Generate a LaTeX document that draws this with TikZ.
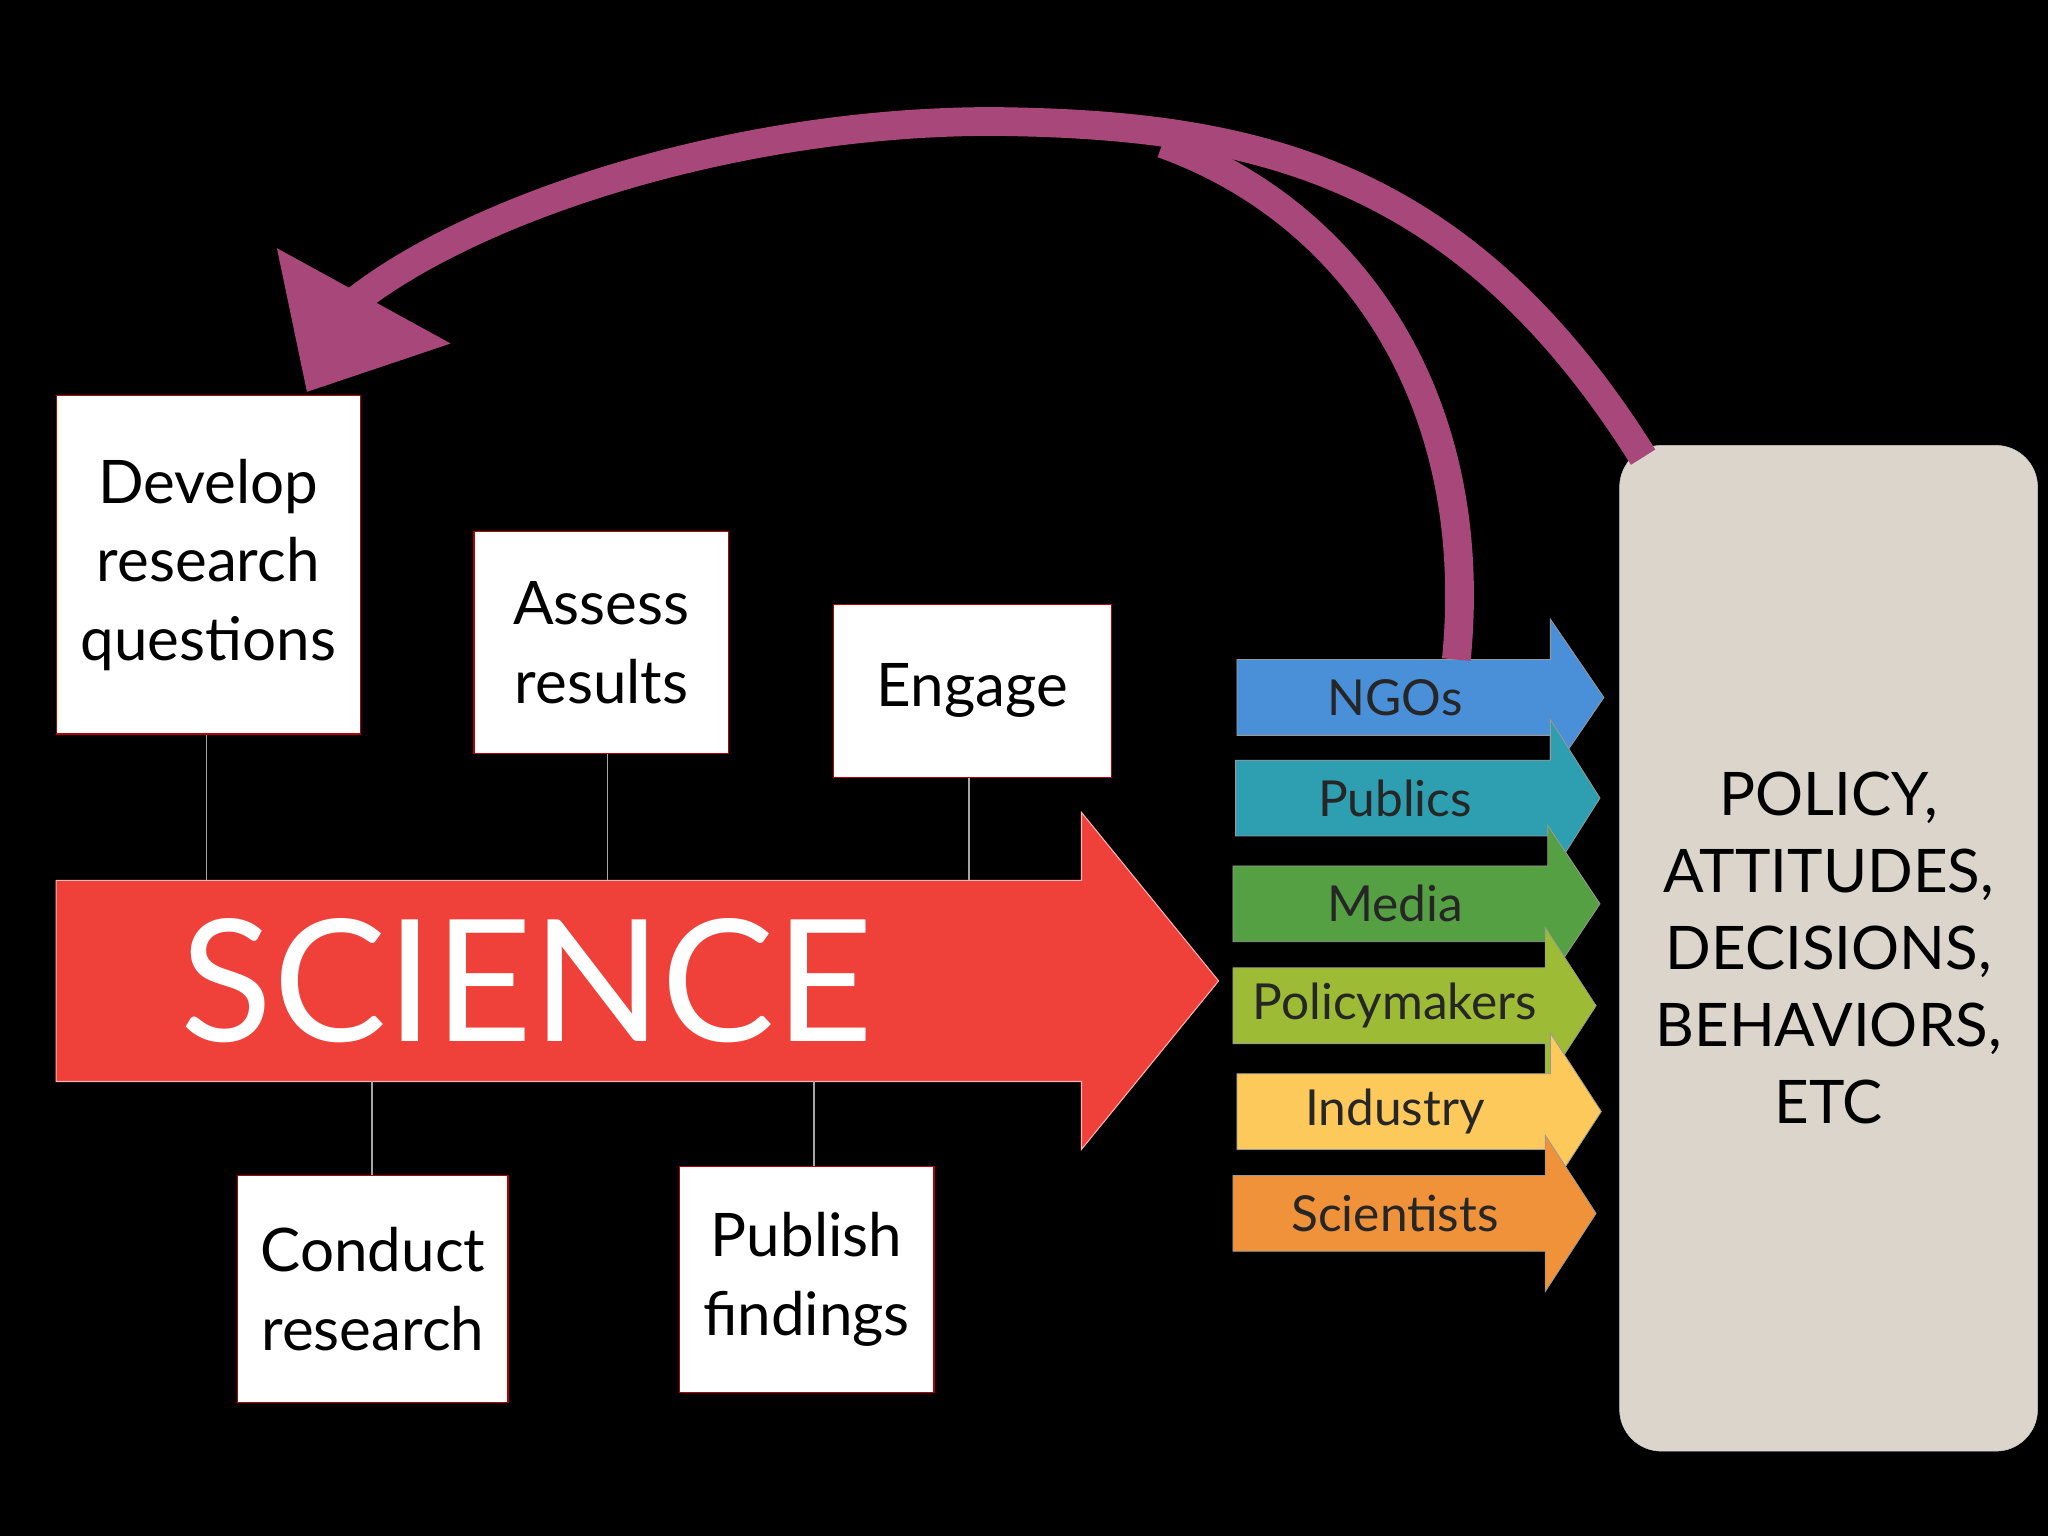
\documentclass[tikz,border=0pt]{standalone}
\usepackage{fontspec}
\setmainfont{Lato}
\begin{document}
\begin{tikzpicture}[x=1pt,y=-1pt,
  wbox/.style={draw=red!70!black,line width=1pt,fill=white,inner sep=0pt,align=center,font=\fontsize{46}{60}\selectfont},
  conn/.style={draw=gray!70,line width=1.2pt},
  tag/.style={font=\fontsize{38}{44}\selectfont,text=black!85}]
\fill[black] (0,0) rectangle (1568,1176);
\useasboundingbox (0,0) rectangle (1568,1176);
% boxes
\node[wbox,minimum width=233pt,minimum height=259pt] (dev) at (159.5,432.5) {Develop\\research\\questions};
\node[wbox,minimum width=195pt,minimum height=170pt] (ass) at (460.5,492) {Assess\\results};
\node[wbox,minimum width=213pt,minimum height=132pt] (eng) at (744.5,529) {Engage};
\node[wbox,minimum width=207pt,minimum height=174pt] (con) at (285.5,987) {Conduct\\research};
\node[wbox,minimum width=195pt,minimum height=173pt] (pub) at (617.5,979.5) {Publish\\findings};
% science arrow
\fill[fill={rgb,255:red,239;green,64;blue,58}] (43,674) -- (828,674) -- (828,622) -- (933,751) -- (828,880) -- (828,828) -- (43,828) -- cycle;
\draw[white!70!red,line width=0.8pt] (43,674) -- (828,674) -- (828,622) -- (933,751) -- (828,880) -- (828,828) -- (43,828) -- cycle;
\node[text=white,font=\fontsize{130}{130}\selectfont,anchor=west] (sci) at (135,751) {SCIENCE};
\coordinate (s1) at (158,674); \coordinate (s2) at (465,674); \coordinate (s3) at (742,674);
\coordinate (s4) at (285,828); \coordinate (s5) at (623,828);
\draw[conn] (dev.south -| s1) -- (s1);
\draw[conn] (ass.south -| s2) -- (s2);
\draw[conn] (eng.south -| s3) -- (s3);
\draw[conn] (con.north -| s4) -- (s4);
\draw[conn] (pub.north -| s5) -- (s5);
% small arrows
\newcommand{\sarrow}[6]{%
 \fill[fill={rgb,255:#5}] (#1,#2) -- (#3,#2) -- (#3,#2-31) -- (#4,#2+29) -- (#3,#2+89) -- (#3,#2+58) -- (#1,#2+58) -- cycle;
 \draw[white!60!black,line width=0.6pt] (#1,#2) -- (#3,#2) -- (#3,#2-31) -- (#4,#2+29) -- (#3,#2+89) -- (#3,#2+58) -- (#1,#2+58) -- cycle;
 \node[tag] at (1068,#2+29) {#6};}
\sarrow{947}{505}{1187}{1228}{red,74;green,144;blue,217}{NGOs}
\sarrow{946}{582}{1187}{1225}{red,46;green,159;blue,176}{Publics}
\sarrow{944}{663}{1185}{1225}{red,85;green,160;blue,67}{Media}
\sarrow{944}{741}{1183}{1222}{red,157;green,187;blue,53}{Policymakers}
\sarrow{947}{822}{1187}{1226}{red,253;green,201;blue,90}{Industry}
\sarrow{944}{900}{1183}{1222}{red,240;green,146;blue,58}{Scientists}
\coordinate (ngotop) at (1115,505);
% right box
\node[draw=white!80!black,fill={rgb,255:red,220;green,213;blue,204},rounded corners=32pt,minimum width=320pt,minimum height=770pt,align=center,font=\fontsize{46}{59}\selectfont,inner sep=0pt] (pol) at (1400,726) {POLICY,\\ATTITUDES,\\DECISIONS,\\BEHAVIORS,\\ETC};
% curved arrow
\definecolor{mag}{RGB}{168,72,122}
\draw[mag,line width=22pt] (1258,350) .. controls (1120,130) and (960,95) .. (760,93) .. controls (560,93) and (360,160) .. (270,232);
\draw[mag,line width=22pt] (ngotop) .. controls (1135,300) and (1030,160) .. (890,110);
\fill[mag] (235,300) -- (212,190) -- (345,263) -- cycle;
\end{tikzpicture}
\end{document}
